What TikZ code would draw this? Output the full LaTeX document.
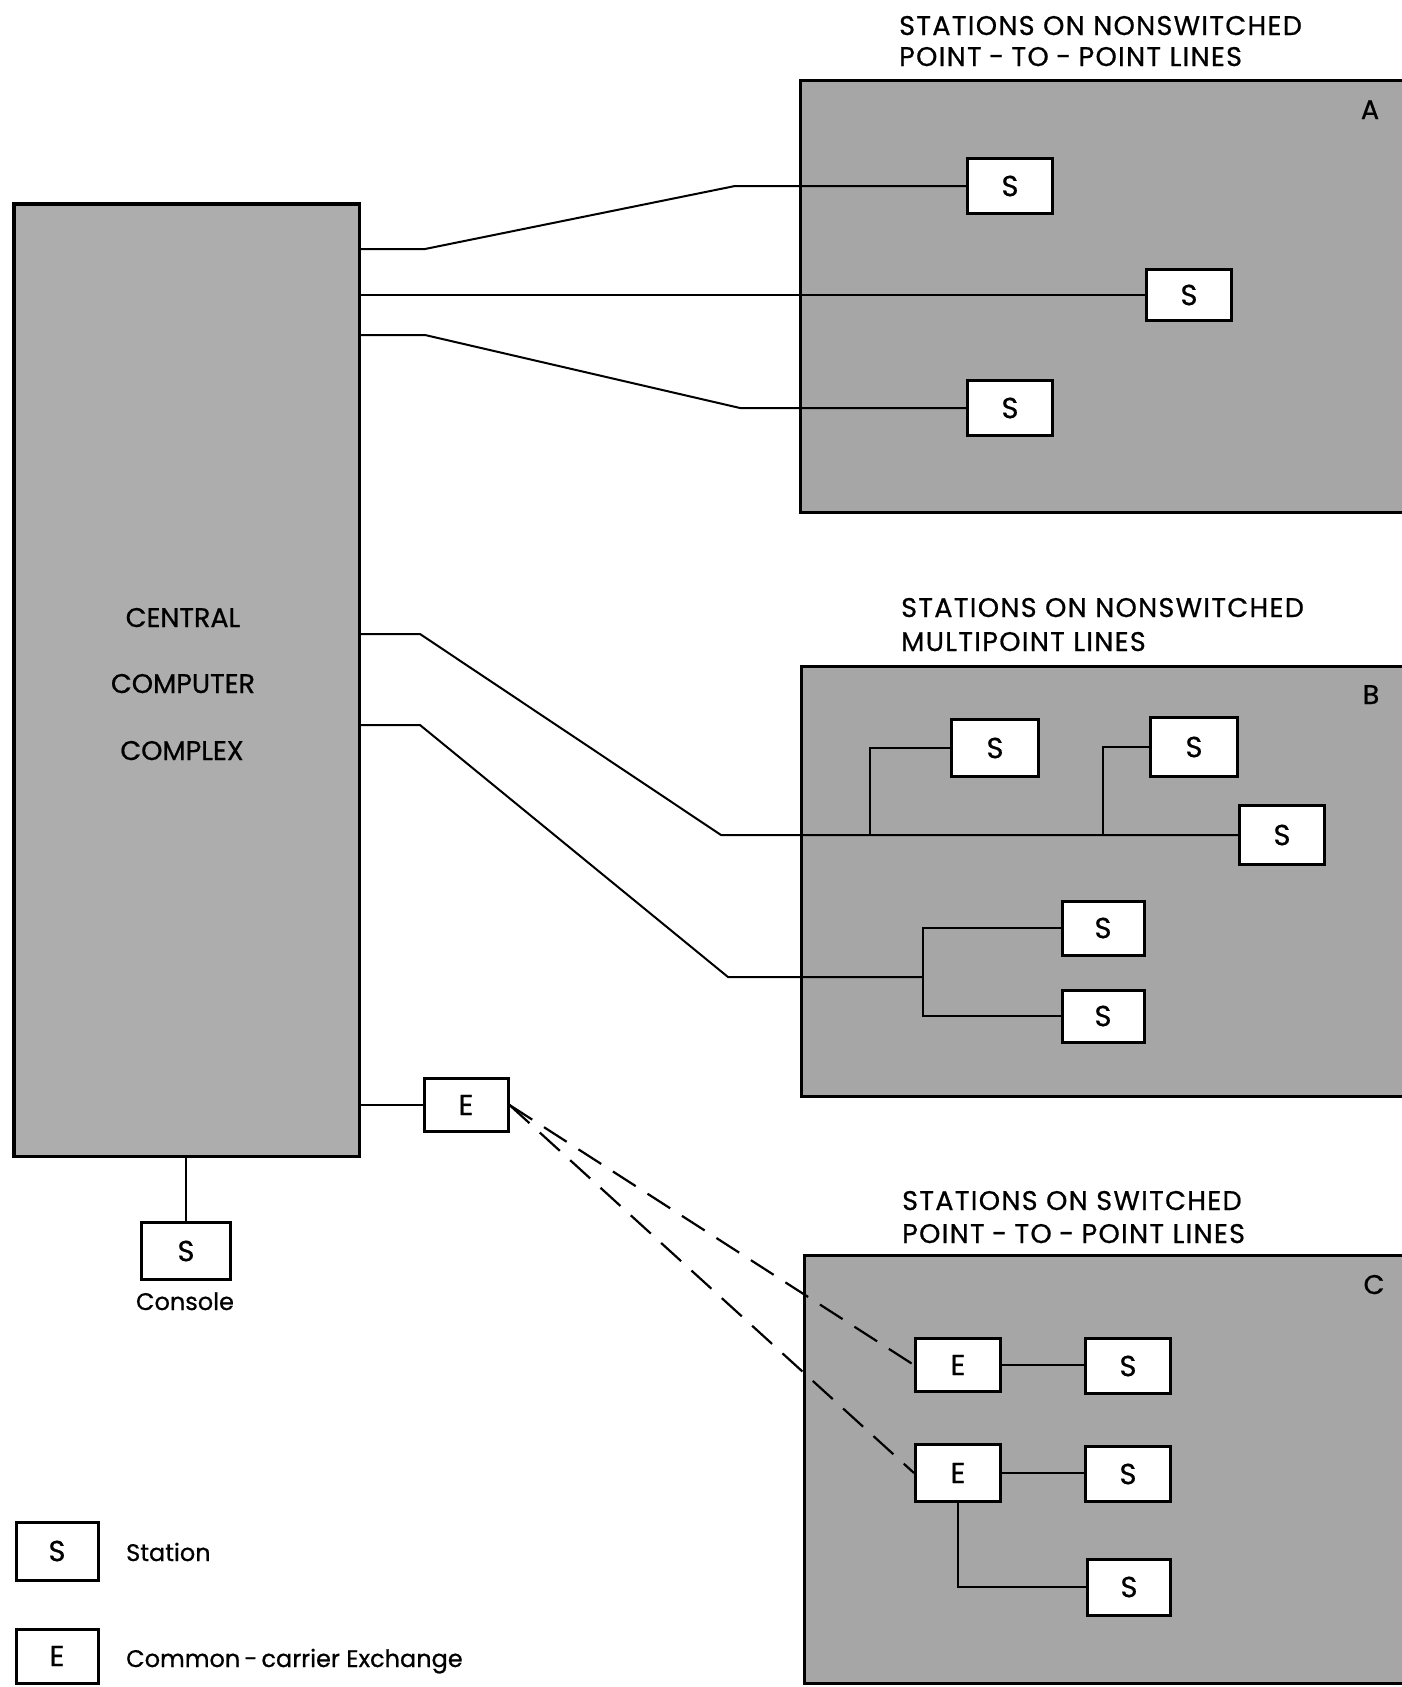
\documentclass[tikz,border=0pt]{standalone}
\usepackage{fontspec}
\setmainfont{Poppins}
\newfontfamily\geo[FakeBold=0.7]{Poppins}
\newfontfamily\geowide[FakeBold=0.7,LetterSpace=5]{Poppins}
\newcommand\hdfont{\geowide\fontsize{27}{32}\selectfont}
\newcommand\cpufont{\geo\fontsize{27}{32}\selectfont}
\newcommand\bxfont{\geo\fontsize{29}{33}\selectfont}
\newcommand\lgfont{\geo\fontsize{24}{28}\selectfont}
\definecolor{panelgray}{gray}{0.65}
\definecolor{cpugray}{gray}{0.68}
\begin{document}
\begin{tikzpicture}[x=1pt,y=-1pt,
  panel/.style={draw=black, fill=panelgray, line width=3pt, inner sep=0pt, anchor=north west},
  cpubox/.style={draw=black, fill=cpugray, line width=3.5pt, inner sep=0pt, anchor=north west},
  sbox/.style={draw=black, fill=white, line width=3pt, minimum width=85pt, minimum height=55pt, inner sep=0pt, font=\bxfont},
  wire/.style={line width=2pt, line join=miter},
  dline/.style={line width=2.2pt, dash pattern=on 27pt off 14pt},
  heading/.style={anchor=base west, inner sep=0pt, font=\hdfont},
  cpulabel/.style={anchor=base, inner sep=0pt, font=\cpufont},
  tag/.style={anchor=base, inner sep=0pt, font=\cpufont},
  ]
\useasboundingbox (0,0) rectangle (1402,1687);
\fill[white] (0,0) rectangle (1402,1687);
\begin{scope}
\clip (0,0) rectangle (1402,1687);

% ---- group panels ----
\node[panel, minimum width=620, minimum height=432] (panA) at (799,79) {};
\node[panel, minimum width=620, minimum height=430] (panB) at (800,665) {};
\node[panel, minimum width=620, minimum height=428] (panC) at (803,1254) {};

\node[tag] (tagA) at (1370,119) {A};
\node[tag] (tagB) at (1371,704) {B};
\node[tag] (tagC) at (1374,1294) {C};

% ---- headings ----
\node[heading] (hA1) at (899,35) {STATIONS ON NONSWITCHED};
\node[heading] (hA2) at (899,66) {POINT\;-\;TO\;-\;POINT LINES};
\node[heading] (hB1) at (901,617) {STATIONS ON NONSWITCHED};
\node[heading] (hB2) at (901,651) {MULTIPOINT LINES};
\node[heading] (hC1) at (902,1210) {STATIONS ON SWITCHED};
\node[heading] (hC2) at (902,1243) {POINT\;-\;TO\;-\;POINT LINES};

% ---- central computer complex ----
\node[cpubox, minimum width=345.5, minimum height=952.5] (ccc) at (12,202) {};
\node[cpulabel] (cc1) at (183,627) {CENTRAL};
\node[cpulabel] (cc2) at (183,693) {COMPUTER};
\node[cpulabel] (cc3) at (182,760) {COMPLEX};

% ---- stations and exchanges ----
\node[sbox] (A1) at (1010,186) {S};
\node[sbox, minimum width=85, minimum height=51] (A2) at (1189,295) {S};
\node[sbox] (A3) at (1010,408) {S};

\node[sbox, minimum width=87, minimum height=57] (B1) at (995,748) {S};
\node[sbox, minimum width=87, minimum height=59] (B2) at (1194,747) {S};
\node[sbox, minimum width=85, minimum height=59] (B3) at (1282,835) {S};
\node[sbox, minimum width=82, minimum height=54] (B4) at (1103,928) {S};
\node[sbox, minimum width=82, minimum height=52] (B5) at (1103,1016) {S};

\node[sbox, minimum width=84, minimum height=53] (E0) at (466,1105) {E};
\node[sbox, minimum width=89, minimum height=57] (S0) at (186,1251) {S};
\node[anchor=base, inner sep=0pt, font=\lgfont] (S0lbl) at (185,1310) {Console};

\node[sbox, minimum width=85, minimum height=53] (E1) at (958,1365) {E};
\node[sbox] (C1) at (1128,1366) {S};
\node[sbox, minimum width=85, minimum height=57] (E2) at (958,1473) {E};
\node[sbox] (C2) at (1128,1474) {S};
\node[sbox, minimum width=83, minimum height=56] (C3) at (1129,1587) {S};

% ---- legend ----
\node[sbox, minimum width=82, minimum height=58] (legS) at (57,1551) {S};
\node[anchor=base west, inner sep=0pt, font=\lgfont] (legSt) at (126,1561) {Station};
\node[sbox, minimum width=82, minimum height=54] (legE) at (57,1656) {E};
\node[anchor=base west, inner sep=0pt, font=\lgfont] (legEt) at (126,1667) {Common\,-\,carrier Exchange};

% ---- point-to-point lines ----
\coordinate (pA1) at (ccc.east |- 0,249);
\coordinate (pA2) at (ccc.east |- A2.west);
\coordinate (pA3) at (ccc.east |- 0,335);
\draw[wire] (pA1) -- (425,249) -- (735,186) -- (A1.west);
\draw[wire] (pA2) -- (A2.west);
\draw[wire] (pA3) -- (425,335) -- (740,408) -- (A3.west);

% ---- multipoint lines ----
\coordinate (pB1) at (ccc.east |- 0,634);
\coordinate (pB2) at (ccc.east |- 0,725);
\coordinate (jB1) at (870,835);
\coordinate (jB2) at (1103,835);
\coordinate (jB3) at (923,977);
\draw[wire] (pB1) -- (420,634) -- (721,835) -- (B3.west);
\draw[wire] (jB1) |- (B1.west);
\draw[wire] (jB2) |- (B2.west);
\draw[wire] (pB2) -- (420,725) -- (728,977) -- (jB3);
\draw[wire] (B4.west) -| (jB3) |- (B5.west);

% ---- switched lines ----
\draw[wire] (ccc.east |- E0.west) -- (E0.west);
\draw[wire] (S0.north) -- (S0.north |- ccc.south);
\draw[dline] (E0.east) -- (E1.west);
\draw[dline] (E0.east) -- (E2.west);
\draw[wire] (E1.east) -- (C1.west |- E1.east);
\draw[wire] (E2.east) -- (C2.west |- E2.east);
\draw[wire] (E2.south) |- (C3.west);
\end{scope}
\end{tikzpicture}
\end{document}
